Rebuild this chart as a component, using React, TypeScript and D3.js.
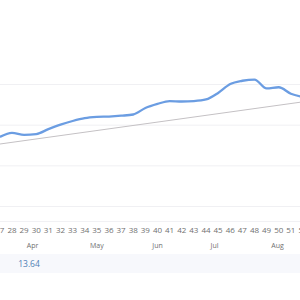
import React, { useEffect, useRef } from "react";
import * as d3 from "d3";

// weekly series
const weeks = [27, 28, 29, 30, 31, 32, 33, 34, 35, 36, 37, 38, 39, 40, 41, 42, 43, 44, 45, 46, 47, 48, 49, 50, 51, 52];
const values = [17.0, 18.0, 17.5, 17.7, 18.9, 20.0, 20.9, 21.6, 21.9, 22.0, 22.2, 22.5, 24.1, 25.1, 25.8, 25.7, 25.8, 26.2, 27.8, 30.0, 30.8, 31.1, 28.9, 29.2, 27.6, 26.8];
const trendWeeks = [26.9, 52.2];
const trendValues = [15.2, 25.7];
const gridValues = [0, 10, 20, 30];
const tickWeeks = [27, 28, 29, 30, 31, 32, 33, 34, 35, 36, 37, 38, 39, 40, 41, 42, 43, 44, 45, 46, 47, 48, 49, 50, 51, 52];
const months = ["Apr", "May", "Jun", "Jul", "Aug"];
const monthWeeks = [29.7, 35.0, 40.0, 44.7, 49.9];
const summary = "13.64";

function App() {
  const ref = useRef<SVGSVGElement>(null);

  useEffect(() => {
    const width = 300,
      height = 300;
    const svg = d3.select(ref.current);
    svg.selectAll("*").remove();

    const x = d3.scaleLinear().domain([28, 52]).range([12, 303]);
    const y = d3.scaleLinear().domain([0, 30]).range([206, 84]);

    svg.append("rect").attr("width", width).attr("height", height).attr("fill", "#fff");

    // gridlines
    svg
      .append("g")
      .selectAll("line")
      .data(gridValues)
      .enter()
      .append("line")
      .attr("x1", 0)
      .attr("x2", width)
      .attr("y1", (d) => y(d) + 0.5)
      .attr("y2", (d) => y(d) + 0.5)
      .attr("stroke", "#f0f0f3");

    // axis band separators
    svg.append("line").attr("x1", 0).attr("x2", width).attr("y1", 221.5).attr("y2", 221.5).attr("stroke", "#f1f1f4");
    svg.append("rect").attr("x", 0).attr("y", 254).attr("width", width).attr("height", 19).attr("fill", "#f7f8fc");

    const line = d3
      .line<number>()
      .x((d, i) => x(weeks[i]))
      .y((d) => y(d))
      .curve(d3.curveMonotoneX);

    // trend line
    svg
      .append("line")
      .attr("x1", x(trendWeeks[0]))
      .attr("x2", x(trendWeeks[1]))
      .attr("y1", y(trendValues[0]))
      .attr("y2", y(trendValues[1]))
      .attr("stroke", "#c4c1c4")
      .attr("stroke-width", 1.2);

    svg
      .append("path")
      .datum(values)
      .attr("d", line)
      .attr("fill", "none")
      .attr("stroke", "#6b9de2")
      .attr("stroke-width", 2.3)
      .attr("stroke-linejoin", "round");

    // week ticks
    svg
      .append("g")
      .selectAll("text")
      .data(tickWeeks)
      .enter()
      .append("text")
      .attr("x", (d) => x(d))
      .attr("y", 233)
      .attr("text-anchor", "middle")
      .attr("font-family", "'Open Sans', sans-serif")
      .attr("font-size", 8)
      .attr("fill", "#707070")
      .text((d) => d);

    // month labels
    svg
      .append("g")
      .selectAll("text")
      .data(months)
      .enter()
      .append("text")
      .attr("x", (d, i) => x(monthWeeks[i]))
      .attr("y", 248)
      .attr("text-anchor", "middle")
      .attr("font-family", "'Open Sans', sans-serif")
      .attr("font-size", 7)
      .attr("fill", "#707070")
      .text((d) => d);

    svg
      .append("text")
      .attr("x", 29)
      .attr("y", 266.5)
      .attr("text-anchor", "middle")
      .attr("font-family", "'Open Sans', sans-serif")
      .attr("font-size", 8.5)
      .attr("fill", "#4f7fb5")
      .text(summary);
  }, []);

  return (
    <svg
      ref={ref}
      width={300}
      height={300}
      style={{ position: "absolute", left: 0, top: 0 }}
    />
  );
}

export default App;
